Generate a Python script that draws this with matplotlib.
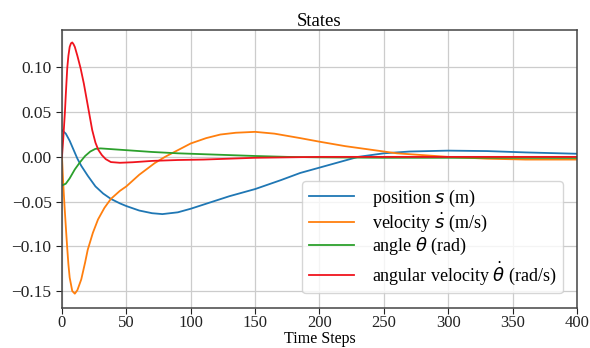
import numpy as np
import matplotlib
matplotlib.use("Agg")
import matplotlib.pyplot as plt

plt.rcParams['font.family'] = ['Liberation Serif', 'DejaVu Serif']
plt.rcParams['mathtext.fontset'] = 'dejavusans'

# position s
t_pos = [0, 3, 6, 9, 12, 15, 20, 26, 32, 38, 45, 50, 60, 70, 78, 90, 100, 115,
         130, 150, 170, 185, 200, 215, 230, 250, 270, 300, 330, 360, 400]
pos = [0.030, 0.026, 0.018, 0.008, -0.002, -0.010, -0.021, -0.033, -0.041, -0.047,
       -0.052, -0.055, -0.060, -0.063, -0.064, -0.062, -0.058, -0.051, -0.044, -0.036,
       -0.026, -0.018, -0.012, -0.006, 0.000, 0.004, 0.006, 0.007, 0.0065, 0.005, 0.0035]

# velocity s dot
t_vel = [0, 1, 2, 3, 4, 5, 6, 8, 10, 12, 15, 18, 20, 24, 28, 33, 38, 45, 50, 60, 72,
         80, 88, 100, 112, 123, 135, 150, 165, 185, 200, 220, 240, 260, 280, 300, 330,
         360, 400]
vel = [0.0, -0.03, -0.055, -0.078, -0.10, -0.12, -0.135, -0.150, -0.153, -0.149,
       -0.137, -0.118, -0.104, -0.085, -0.070, -0.057, -0.047, -0.038, -0.033, -0.020,
       -0.007, 0.000, 0.006, 0.015, 0.021, 0.025, 0.027, 0.028, 0.026, 0.021, 0.017,
       0.012, 0.008, 0.004, 0.002, 0.000, -0.002, -0.003, -0.003]

# angle theta
t_ang = [0, 3, 6, 10, 14, 18, 22, 26, 30, 35, 45, 55, 70, 90, 110, 130, 150, 175,
         200, 250, 300, 400]
ang = [-0.032, -0.030, -0.024, -0.014, -0.006, 0.001, 0.006, 0.009, 0.0095, 0.009,
       0.008, 0.007, 0.0055, 0.004, 0.003, 0.002, 0.001, 0.0, -0.0005, -0.001, -0.001,
       -0.0012]

# angular velocity theta dot
t_angv = [0, 1, 2.3, 3, 4.1, 5, 6, 7, 8, 9, 10, 12, 14.5, 17, 19, 21, 23.5, 26, 28.2,
          31, 34, 38, 45, 55, 70, 90, 110, 150, 200, 300, 400]
angv = [0.0, 0.02, 0.05, 0.07, 0.099, 0.113, 0.123, 0.127, 0.128, 0.126, 0.123, 0.113,
        0.099, 0.082, 0.066, 0.050, 0.030, 0.016, 0.008, 0.002, -0.0025, -0.0058,
        -0.0066, -0.006, -0.0045, -0.0035, -0.003, -0.001, 0.0, 0.0, 0.0]

fig = plt.figure(figsize=(5.9, 3.48), dpi=100)
ax = fig.add_axes([0.105, 0.115, 0.873, 0.799])

ax.plot(t_pos, pos, color='#1f77b4', lw=1.3, label=r'position $s$ (m)')
ax.plot(t_vel, vel, color='#ff7f0e', lw=1.3, label=r'velocity $\dot{s}$ (m/s)')
ax.plot(t_ang, ang, color='#2ca02c', lw=1.3, label=r'angle $\theta$ (rad)')
ax.plot(t_angv, angv, color='#f0141e', lw=1.3,
        label=r'angular velocity $\dot{\theta}$ (rad/s)')

ax.set_xlim(0, 400)
ax.set_ylim(-0.169, 0.142)
ax.set_xticks(np.arange(0, 401, 50))
ax.set_yticks([-0.15, -0.10, -0.05, 0.00, 0.05, 0.10])
ax.grid(True, color='#cccccc', lw=0.9)
for sp in ax.spines.values():
    sp.set_color('#444444')
    sp.set_linewidth(1.1)
ax.tick_params(labelsize=12.5, colors='#222222', length=4)
ax.tick_params(axis='x', labelsize=12, pad=1)
ax.set_title('States', fontsize=13.5, pad=3)
ax.set_xlabel('Time Steps', fontsize=11.5, labelpad=0)
ax.legend(loc='lower right', fontsize=13, labelspacing=0.12, handlelength=2.5,
          handletextpad=1.0, borderpad=0.35, framealpha=0.8,
          bbox_to_anchor=(0.99, 0.02))

fig.savefig('out.png', dpi=100)
